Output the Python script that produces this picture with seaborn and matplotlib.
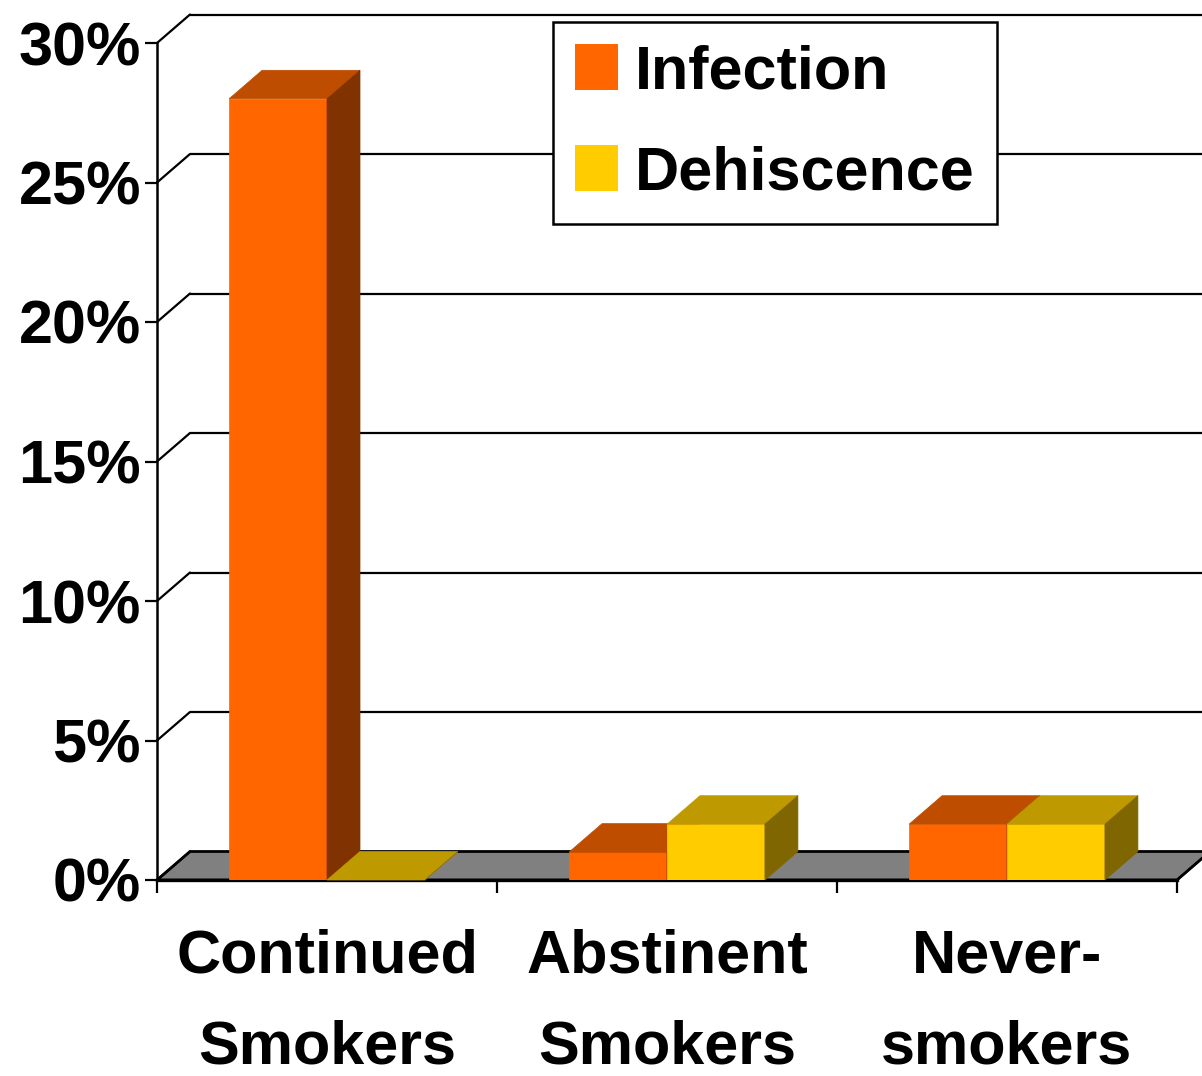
import numpy as np
import pandas as pd
import matplotlib
matplotlib.use('Agg')
import matplotlib.pyplot as plt
import seaborn as sns
from matplotlib import font_manager
from matplotlib.patches import Polygon, Patch
from matplotlib.colors import to_rgb

# Datos del gráfico
grupos = ['Continued\nSmokers', 'Abstinent\nSmokers', 'Never-\nsmokers']
infection = [28, 1, 2]
dehiscence = [0, 2, 2]
series = ['Infection', 'Dehiscence']
colores = ['#FF6600', '#FFCC00']
yticks = [0, 5, 10, 15, 20, 25, 30]

df = pd.DataFrame({
    'grupo': grupos * 2,
    'serie': [series[0]] * 3 + [series[1]] * 3,
    'valor': infection + dehiscence,
})

sns.set_style('white')
# Fuente estrecha si existe (el original es Arial Narrow), si no Liberation Sans
try:
    font_manager.findfont(font_manager.FontProperties(family='Liberation Sans Narrow', weight='bold'),
                          fallback_to_default=False)
    familia, fs = 'Liberation Sans Narrow', 52.5
except ValueError:
    familia, fs = 'Liberation Sans', 44
plt.rcParams['font.family'] = [familia, 'DejaVu Sans']
plt.rcParams['font.weight'] = 'bold'

W, H = 1202, 1076
fig = plt.figure(figsize=(W / 100, H / 100), dpi=100)
ax = fig.add_axes([157 / W, 1 - 880 / H, (1177 - 157) / W, (880 - 43) / H])

sns.barplot(data=df, x='grupo', y='valor', hue='serie', palette=colores,
            width=0.576, gap=0, saturation=1, legend=False, ax=ax)
ax.set_xlim(-0.5, 2.5)
ax.set_ylim(0, 30)
ax.set_xlabel('')
ax.set_ylabel('')
ax.grid(False)
barras = sorted(list(ax.patches), key=lambda p: p.get_x())

# Profundidad 3D (en píxeles) pasada a unidades de datos
ddx = 33 / (ax.bbox.width / 3)
ddy = 28.5 / (ax.bbox.height / 30)

# Suelo gris
suelo = Polygon([(-0.5, 0), (2.5, 0), (2.5 + ddx, ddy), (-0.5 + ddx, ddy)],
                fc='#808080', ec='black', lw=2, zorder=2, clip_on=False)
ax.add_patch(suelo)

# Pared del fondo: líneas de la cuadrícula y diagonales de la pared izquierda
for v in yticks:
    if v > 0:
        ax.plot([-0.5 + ddx, 2.5 + ddx], [v + ddy, v + ddy], color='black', lw=1.6,
                zorder=1, clip_on=False, solid_capstyle='butt')
    ax.plot([-0.5, -0.5 + ddx], [v, v + ddy], color='black', lw=1.6, zorder=2.5, clip_on=False)
ax.plot([2.5, 2.5 + ddx], [0, ddy], color='black', lw=1.6, zorder=2.5, clip_on=False)

# Caras superior y lateral de cada barra
for i, p in enumerate(barras):
    x0, w, h = p.get_x(), p.get_width(), p.get_height()
    x1 = x0 + w
    c = np.array(to_rgb(p.get_facecolor()))
    p.set_zorder(3 + i)
    p.set_edgecolor(c)
    p.set_linewidth(0.5)
    arriba = Polygon([(x0, h), (x1, h), (x1 + ddx, h + ddy), (x0 + ddx, h + ddy)],
                     fc=c * 0.75, ec=c * 0.75, lw=0.5, zorder=3 + i, clip_on=False)
    lado = Polygon([(x1, 0), (x1 + ddx, ddy), (x1 + ddx, h + ddy), (x1, h)],
                   fc=c * 0.5, ec=c * 0.5, lw=0.5, zorder=3 + i, clip_on=False)
    ax.add_patch(arriba)
    ax.add_patch(lado)

# Ejes
for s in ['top', 'right']:
    ax.spines[s].set_visible(False)
ax.spines['left'].set_color('black')
ax.spines['left'].set_linewidth(1.8)
ax.spines['bottom'].set_color('black')
ax.spines['bottom'].set_linewidth(2.4)
ax.spines['left'].set_zorder(2.6)
ax.spines['bottom'].set_zorder(2.6)

ax.set_yticks(yticks)
ax.set_yticklabels([f'{v}%' for v in yticks])
ax.tick_params(axis='y', left=True, length=8.6, width=1.6, color='black', pad=3,
               labelsize=fs, labelcolor='black')
ax.set_xticks([0, 1, 2])
ax.set_xticklabels(grupos)
ax.set_xticks([-0.5, 0.5, 1.5, 2.5], minor=True)
ax.tick_params(axis='x', which='major', bottom=True, length=0, pad=35, labelsize=fs,
               labelcolor='black')
ax.tick_params(axis='x', which='minor', bottom=True, length=9.4, width=1.6, color='black')
for lbl in ax.get_xticklabels():
    lbl.set_linespacing(1.78)

# Leyenda
handles = [Patch(facecolor=c, edgecolor='none') for c in colores]
leg = ax.legend(handles, series, loc='upper left', bbox_to_anchor=(553 / W, 1 - 22 / H),
                bbox_transform=fig.transFigure, frameon=True, fancybox=False,
                edgecolor='black', framealpha=1, fontsize=fs, handlelength=0.7,
                handleheight=0.77, handletextpad=0.28, labelspacing=0.72,
                borderpad=0.36, borderaxespad=0)
leg.get_frame().set_linewidth(1.8)
leg.set_zorder(20)
for t in leg.get_texts():
    t.set_color('black')

fig.savefig('out.png', dpi=100)
